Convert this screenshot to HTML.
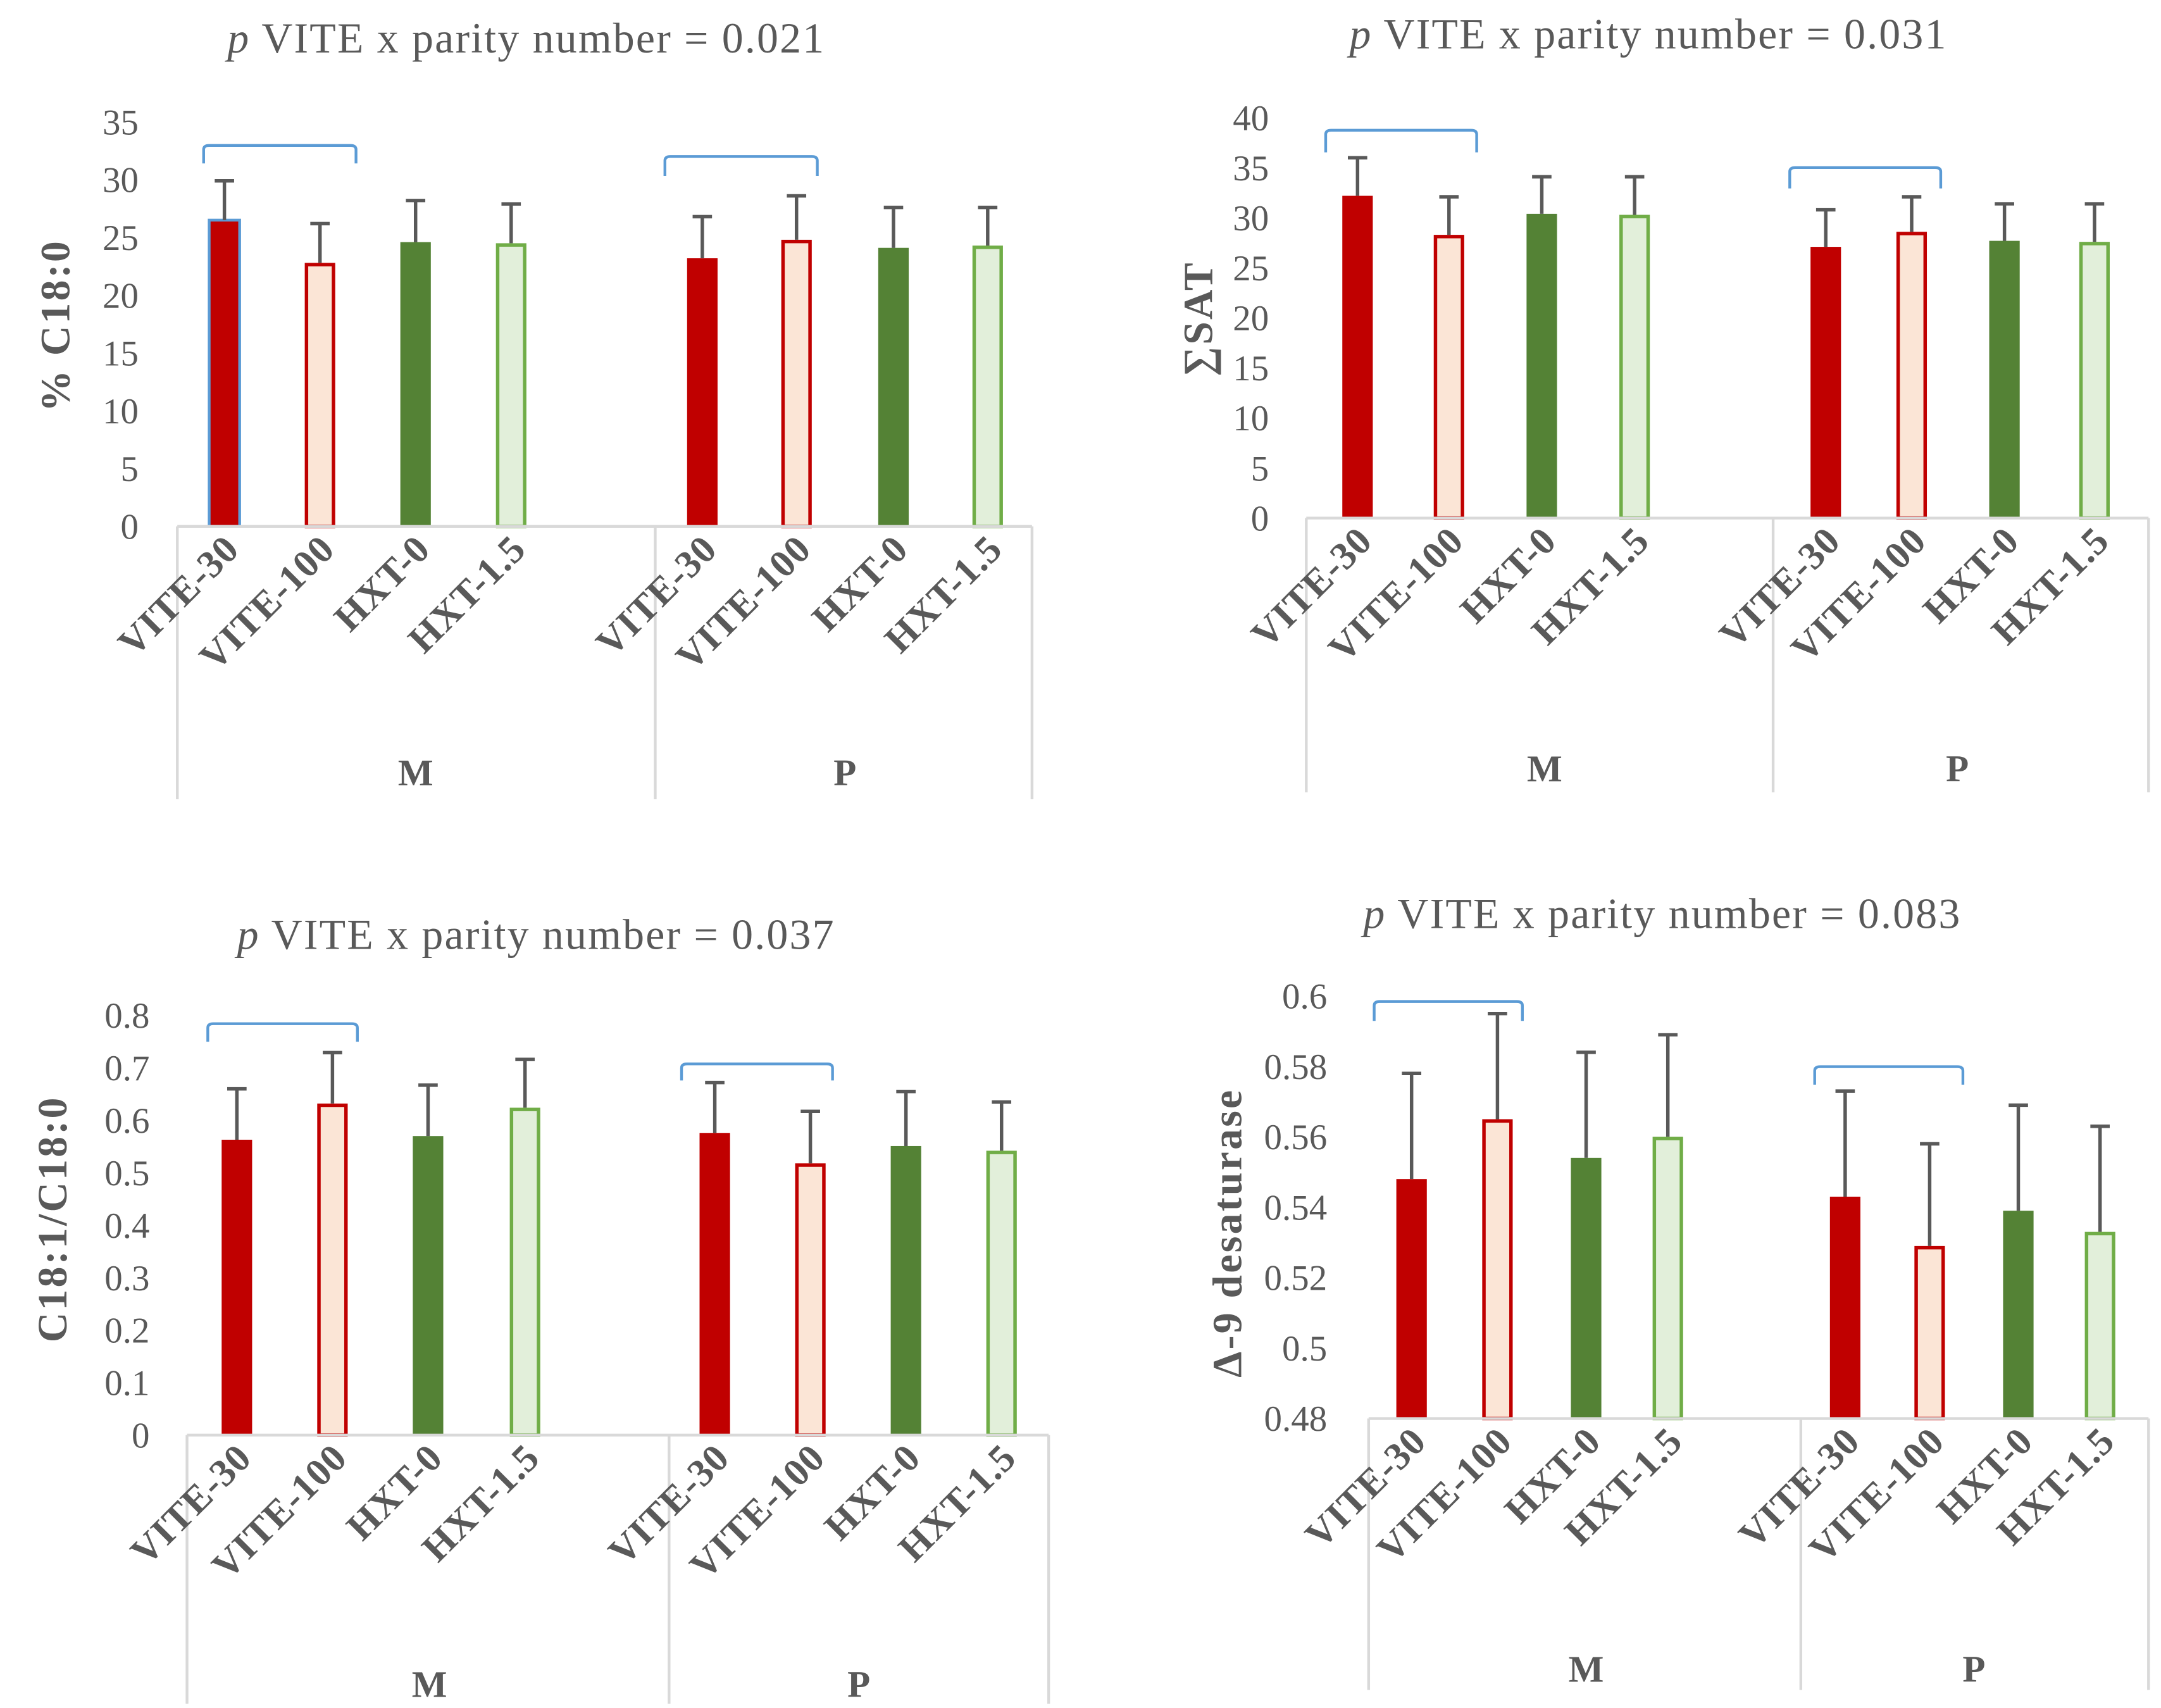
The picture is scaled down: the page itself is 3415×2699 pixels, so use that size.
<!DOCTYPE html>
<html><head><meta charset="utf-8">
<style>
html,body{margin:0;padding:0;background:#fff;}
svg{display:block;}
text{font-family:"Liberation Serif",serif;fill:#595959;}
</style></head>
<body>
<svg id="fig" width="3415" height="2699" viewBox="0 0 1560 1233" preserveAspectRatio="none" xmlns="http://www.w3.org/2000/svg"></svg>
<script>
const categories = ["VITE-30","VITE-100","HXT-0","HXT-1.5"];
const groups = ["M","P"];
const titles = ["0.021","0.031","0.037","0.083"];
const yTitles = ["% C18:0","\u2211SAT","C18:1/C18:0","\u0394-9 desaturase"];
const c18Values = [26.5,22.8,24.6,24.5,23.2,24.8,24.1,24.3];
const c18Err = [29.9,26.2,28.2,27.9,26.8,28.6,27.6,27.6];
const satValues = [32.2,28.3,30.4,30.3,27.1,28.6,27.7,27.6];
const satErr = [36.0,32.1,34.1,34.1,30.8,32.1,31.4,31.4];
const ratioValues = [0.563,0.632,0.570,0.624,0.576,0.518,0.551,0.542];
const ratioErr = [0.660,0.729,0.667,0.716,0.672,0.617,0.655,0.635];
const desatValues = [0.548,0.565,0.554,0.560,0.543,0.529,0.539,0.533];
const desatErr = [0.578,0.595,0.584,0.589,0.573,0.558,0.569,0.563];
const c18Ticks = [0,5,10,15,20,25,30,35];
const satTicks = [0,5,10,15,20,25,30,35,40];
const ratioTicks = ["0","0.1","0.2","0.3","0.4","0.5","0.6","0.7","0.8"];
const desatTicks = ["0.48","0.5","0.52","0.54","0.56","0.58","0.6"];

const NS="http://www.w3.org/2000/svg";
const svg=document.getElementById('fig');
function mk(tag,attrs,parent){const e=document.createElementNS(NS,tag);for(const k in attrs)e.setAttribute(k,attrs[k]);(parent||svg).appendChild(e);return e;}

const styles=[
 {fill:"#c00000",stroke:"none"},
 {fill:"#fbe5d6",stroke:"#c00000"},
 {fill:"#548235",stroke:"none"},
 {fill:"#e2efda",stroke:"#70ad47"}];

const panels=[
 {vals:c18Values,err:c18Err,ticks:c18Ticks,min:0,max:35,y0:380,y1:88,x0:128,xd:473,x1:745,bottom:577,
  centers:[162,231,300,369,507,575,645,713],tickX:100,titleX:380,titleY:38,ytX:50,ytY:235,
  br:[[147,257,105,118],[480,590,113,127]],gl:[[300,567],[610,567]]},
 {vals:satValues,err:satErr,ticks:satTicks,min:0,max:40,y0:374,y1:85,x0:943,xd:1280,x1:1551,bottom:572,
  centers:[980,1046,1113,1180,1318,1380,1447,1512],tickX:916,titleX:1190,titleY:35,ytX:875,ytY:230,
  br:[[957,1066,94,110],[1292,1401,121,136]],gl:[[1115,564],[1413,564]]},
 {vals:ratioValues,err:ratioErr,ticks:ratioTicks,min:0,max:0.8,y0:1036,y1:733,x0:135,xd:483,x1:757,bottom:1230,
  centers:[171,240,309,379,516,585,654,723],tickX:108,titleX:387,titleY:685,ytX:48,ytY:880,
  br:[[150,258,739,752],[492,601,768,780]],gl:[[310,1225],[620,1225]]},
 {vals:desatValues,err:desatErr,ticks:desatTicks,min:0.48,max:0.6,y0:1024,y1:719,x0:988,xd:1300,x1:1551,bottom:1220,
  centers:[1019,1081,1145,1204,1332,1393,1457,1516],tickX:958,titleX:1200,titleY:670,ytX:896,ytY:890,
  br:[[992,1099,723,737],[1310,1417,770,783]],gl:[[1145,1214],[1425,1214]]}
];

panels.forEach((p,pi)=>{
  const g=mk('g',{});
  
  
  const ys=v=>p.y0-(v-p.min)/(p.max-p.min)*(p.y0-p.y1);
  const t=mk('text',{x:p.titleX,y:p.titleY,'text-anchor':'middle','font-size':31,'letter-spacing':1},g);
  
  
  t.innerHTML='<tspan font-style="italic">p</tspan> VITE x parity number = '+titles[pi];
  const yt=mk('text',{x:p.ytX,y:p.ytY,'text-anchor':'middle','font-size':30,'font-weight':'bold','letter-spacing':1.5,transform:`rotate(-90 ${p.ytX} ${p.ytY})`},g);
  
  
  yt.textContent=yTitles[pi];
  p.ticks.forEach(tk=>{
    const tl=mk('text',{x:p.tickX,y:ys(parseFloat(tk))+9,'text-anchor':'end','font-size':26},g);
    
    
    tl.textContent=tk;
  });
  p.vals.forEach((v,i)=>{
    const st=styles[i%4];const cx=p.centers[i];const w=22;
    const yTop=ys(v);
    const sw=st.stroke==="none"?0:2.5;
    const b=mk('rect',{x:cx-w/2+sw/2,y:yTop+sw/2,width:w-sw,height:p.y0-yTop-sw/2,fill:st.fill,stroke:st.stroke,'stroke-width':sw},g);
    if(pi===0&&i===0){b.setAttribute('stroke','#5b9bd5');b.setAttribute('stroke-width',2);}
    
    
    const e=ys(p.err[i]);
    const el=mk('path',{d:`M${cx} ${yTop}V${e}M${cx-7} ${e}H${cx+7}`,stroke:'#595959','stroke-width':2.5,fill:'none'},g);
    
    
  });
  const ax=mk('path',{d:`M${p.x0} ${p.y0}H${p.x1}M${p.x0} ${p.y0}V${p.bottom}M${p.xd} ${p.y0}V${p.bottom}M${p.x1} ${p.y0}V${p.bottom}`,stroke:'#d9d9d9','stroke-width':2,fill:'none'},g);
  
  
  p.centers.forEach((cx,i)=>{
    const lx=cx+12, ly=p.y0+18;
    const cl=mk('text',{x:lx,y:ly,'text-anchor':'end','font-size':28,'font-weight':'bold','letter-spacing':0.5,transform:`rotate(-45 ${lx} ${ly})`},g);
    
    
    cl.textContent=categories[i%4];
  });
  p.gl.forEach((gp,gi)=>{
    const gt=mk('text',{x:gp[0],y:gp[1],'text-anchor':'middle','font-size':27,'font-weight':'bold'},g);
    
    
    gt.textContent=groups[gi];
  });
  p.br.forEach(b=>{
    const bp=mk('path',{d:`M${b[0]} ${b[3]}V${b[2]+3}Q${b[0]} ${b[2]} ${b[0]+4} ${b[2]}H${b[1]-4}Q${b[1]} ${b[2]} ${b[1]} ${b[2]+3}V${b[3]}`,stroke:'#5b9bd5','stroke-width':2,fill:'none'},g);
    
    
  });
});
</script>
</body></html>
